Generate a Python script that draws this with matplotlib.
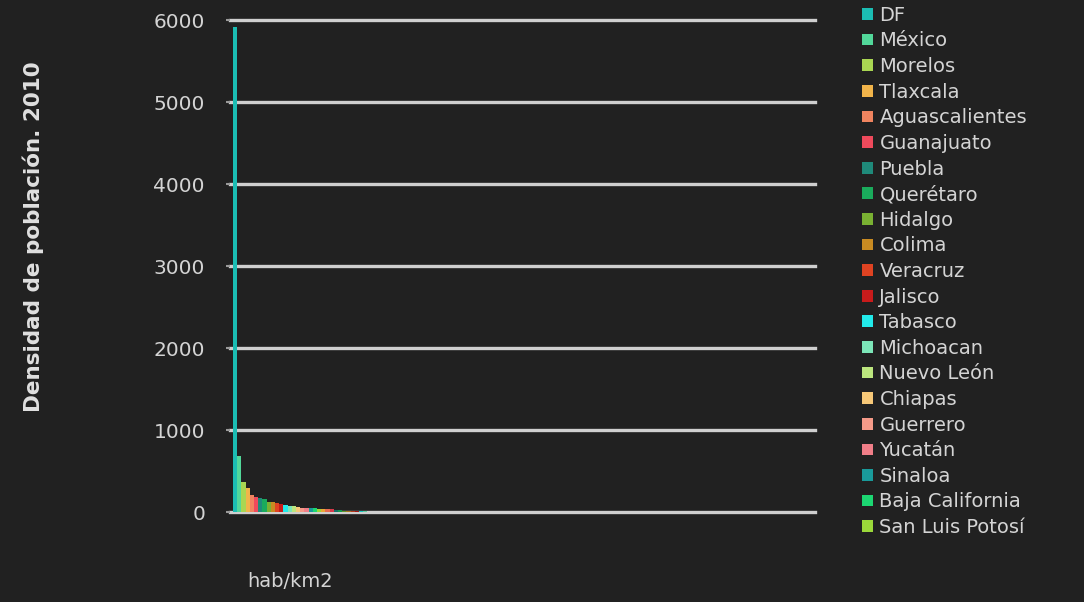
import numpy as np
import matplotlib
matplotlib.use("Agg")
import matplotlib.pyplot as plt
from matplotlib.patches import Patch

# DATA
estados = ["DF", "México", "Morelos", "Tlaxcala", "Aguascalientes", "Guanajuato",
           "Puebla", "Querétaro", "Hidalgo", "Colima", "Veracruz", "Jalisco",
           "Tabasco", "Michoacan", "Nuevo León", "Chiapas", "Guerrero", "Yucatán",
           "Sinaloa", "Baja California", "San Luis Potosí", "Tamaulipas", "Oaxaca",
           "Nayarit", "Quintana Roo", "Zacatecas", "Coahuila", "Sonora", "Campeche",
           "Chihuahua", "Durango", "Baja California Sur"]
densidad = [5920, 679, 364, 295, 212, 179, 168, 156, 128, 116, 106, 98,
            91, 74, 73, 65, 53, 50, 48, 44, 42, 41, 41, 39, 30, 20, 18, 15,
            14, 14, 13, 9]
categoria = "hab/km2"
y_ticks = [0, 1000, 2000, 3000, 4000, 5000, 6000]

# colours, cycling like the office palette
colores = ["#1bbdb3", "#52d89a", "#a9d652", "#f1b44a", "#f0845f", "#ef4a5c",
           "#1f8a7a", "#1aab5c", "#79b132", "#c98b22", "#df4322", "#c81b1b",
           "#22eaea", "#7ce6b8", "#bce67e", "#f7c878", "#f59a88", "#f07e88",
           "#199a9a", "#1cd672", "#9bd83a", "#e8a838", "#e86a50", "#d83a4a",
           "#16706a", "#129a4e", "#5f9a28", "#a8761c", "#b83a1c", "#a01616",
           "#18c8c8", "#60d0a0"]

bg = "#212121"
fg = "#d4d4d4"

fig = plt.figure(figsize=(10.84, 6.02), dpi=100, facecolor=bg)
ax = fig.add_axes([230 / 1084, 90 / 602, 585 / 1084, 492 / 602], facecolor=bg)

x = np.arange(len(densidad))
ax.bar(x, densidad, width=1.0, color=colores[:len(densidad)], linewidth=0, zorder=3)

ax.set_ylim(0, 6000)
ax.set_xlim(-1.2, 138.1)
ax.set_yticks(y_ticks)
ax.yaxis.grid(True, color="#cfcfcf", linewidth=2.4, zorder=1)
ax.xaxis.grid(False)
for gl in ax.get_ygridlines():
    gl.set_clip_on(False)
for s in ax.spines.values():
    s.set_visible(False)

ax.tick_params(axis="y", colors="#9a9a9a", length=3, width=1.5, pad=15,
               labelcolor=fg, labelsize=14.5)
ax.set_xticks([(len(densidad) - 1) / 2 - 2.4])
ax.set_xticklabels([categoria])
ax.tick_params(axis="x", length=0, pad=43, labelcolor=fg, labelsize=14)
for lbl in ax.get_xticklabels() + ax.get_yticklabels():
    lbl.set_family("DejaVu Sans")

fig.text(33 / 1084, 1 - 237 / 602, "Densidad de población. 2010", rotation=90,
         ha="center", va="center", color="#e0e0e0", fontsize=15.5,
         fontweight="bold", family="DejaVu Sans")

# legend is cut off after 21 entries in the original
handles = [Patch(facecolor=c, edgecolor="none") for c in colores[:21]]
leg = fig.legend(handles, estados[:21], loc="upper left",
                 bbox_to_anchor=(858 / 1084, 1 - 2 / 602), frameon=False,
                 fontsize=14, handlelength=0.55, handleheight=0.55,
                 handletextpad=0.35, labelspacing=0.34, borderpad=0.2,
                 borderaxespad=0)
for t in leg.get_texts():
    t.set_color(fg)
    t.set_family("DejaVu Sans")

fig.savefig("out.png", dpi=100, facecolor=bg)
